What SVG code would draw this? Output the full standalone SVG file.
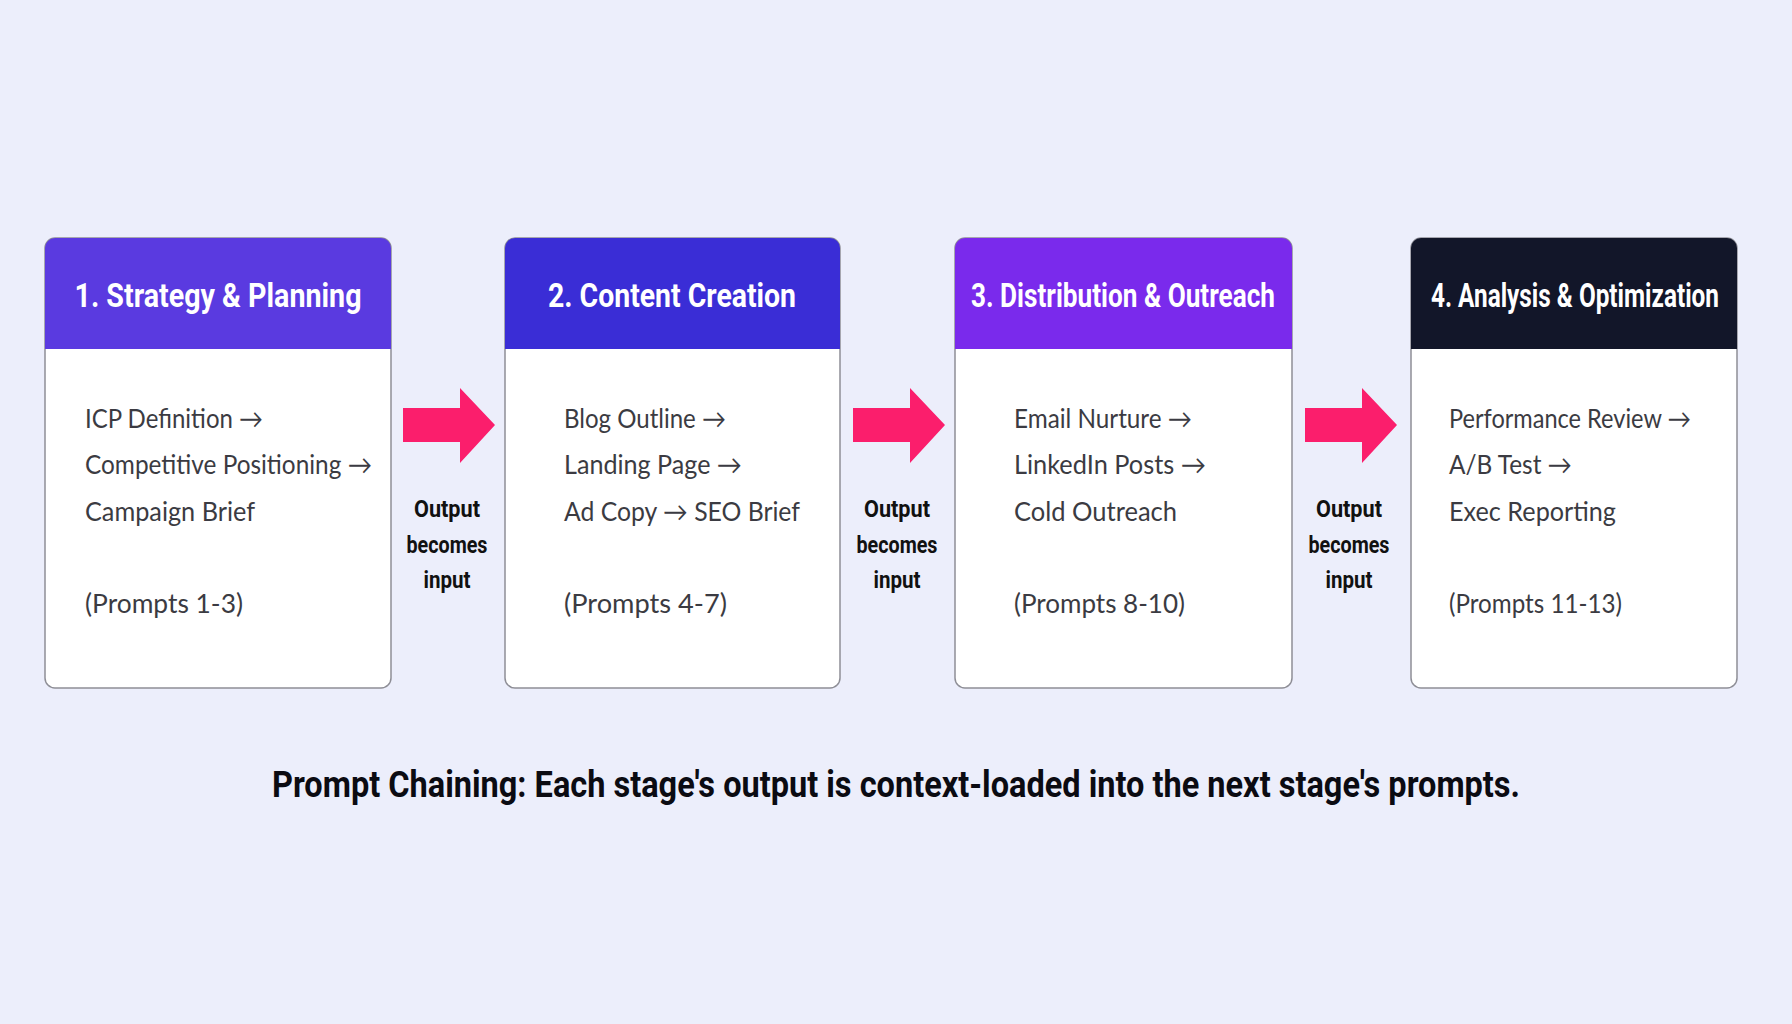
<svg xmlns="http://www.w3.org/2000/svg" width="1792" height="1024" viewBox="0 0 1792 1024">
<defs>
<style>
.card{fill:#ffffff;stroke:#8e8e96;stroke-width:1.5}
.hdr{font-family:Roboto,"Liberation Sans",sans-serif;font-weight:700;font-size:33px;fill:#ffffff;text-anchor:middle}
.body{font-family:Lato,"Liberation Sans",sans-serif;font-size:26.5px;fill:#3b3b42}
.lbl{font-family:Roboto,"Liberation Sans",sans-serif;font-weight:700;font-size:23px;fill:#111111;text-anchor:middle}
.title{font-family:Roboto,"Liberation Sans",sans-serif;font-weight:700;font-size:36px;fill:#0b0b12;text-anchor:middle}
.arrow{fill:#fb1e6c}
</style>
<polygon id="arr" points="0,-17 57,-17 57,-37 92,0 57,38 57,17 0,17"/>
</defs>
<rect width="1792" height="1024" fill="#eceefb"/>

<g id="node1">
<rect class="card" x="45" y="238" width="346" height="450" rx="10"/>
<path d="M45,349 V248 A10,10 0 0 1 55,238 H381 A10,10 0 0 1 391,248 V349 Z" fill="#5a3ae0"/>
<text class="hdr" x="218" y="307" textLength="287" lengthAdjust="spacingAndGlyphs">1. Strategy &amp; Planning</text>
<text class="body" x="85" y="428" textLength="178" lengthAdjust="spacingAndGlyphs">ICP Definition →</text>
<text class="body" x="85" y="474" textLength="287" lengthAdjust="spacingAndGlyphs">Competitive Positioning →</text>
<text class="body" x="85" y="521" textLength="170" lengthAdjust="spacingAndGlyphs">Campaign Brief</text>
<text class="body" x="85" y="613" textLength="158" lengthAdjust="spacingAndGlyphs">(Prompts 1-3)</text>
</g>

<g id="node2">
<rect class="card" x="505" y="238" width="335" height="450" rx="10"/>
<path d="M505,349 V248 A10,10 0 0 1 515,238 H830 A10,10 0 0 1 840,248 V349 Z" fill="#3a2dd6"/>
<text class="hdr" x="672" y="307" textLength="248" lengthAdjust="spacingAndGlyphs">2. Content Creation</text>
<text class="body" x="564" y="428" textLength="162" lengthAdjust="spacingAndGlyphs">Blog Outline →</text>
<text class="body" x="564" y="474" textLength="178" lengthAdjust="spacingAndGlyphs">Landing Page →</text>
<text class="body" x="564" y="521" textLength="236" lengthAdjust="spacingAndGlyphs">Ad Copy → SEO Brief</text>
<text class="body" x="564" y="613" textLength="163" lengthAdjust="spacingAndGlyphs">(Prompts 4-7)</text>
</g>

<g id="node3">
<rect class="card" x="955" y="238" width="337" height="450" rx="10"/>
<path d="M955,349 V248 A10,10 0 0 1 965,238 H1282 A10,10 0 0 1 1292,248 V349 Z" fill="#7a2aec"/>
<text class="hdr" x="1123" y="307" textLength="304" lengthAdjust="spacingAndGlyphs">3. Distribution &amp; Outreach</text>
<text class="body" x="1014" y="428" textLength="178" lengthAdjust="spacingAndGlyphs">Email Nurture →</text>
<text class="body" x="1014" y="474" textLength="192" lengthAdjust="spacingAndGlyphs">LinkedIn Posts →</text>
<text class="body" x="1014" y="521" textLength="163" lengthAdjust="spacingAndGlyphs">Cold Outreach</text>
<text class="body" x="1014" y="613" textLength="171" lengthAdjust="spacingAndGlyphs">(Prompts 8-10)</text>
</g>

<g id="node4">
<rect class="card" x="1411" y="238" width="326" height="450" rx="10"/>
<path d="M1411,349 V248 A10,10 0 0 1 1421,238 H1727 A10,10 0 0 1 1737,248 V349 Z" fill="#121629"/>
<text class="hdr" x="1575" y="307" textLength="288" lengthAdjust="spacingAndGlyphs">4. Analysis &amp; Optimization</text>
<text class="body" x="1449" y="428" textLength="242" lengthAdjust="spacingAndGlyphs">Performance Review →</text>
<text class="body" x="1449" y="474" textLength="123" lengthAdjust="spacingAndGlyphs">A/B Test →</text>
<text class="body" x="1449" y="521" textLength="167" lengthAdjust="spacingAndGlyphs">Exec Reporting</text>
<text class="body" x="1449" y="613" textLength="173" lengthAdjust="spacingAndGlyphs">(Prompts 11-13)</text>
</g>

<g id="connectors">
<use href="#arr" class="arrow" x="403" y="425"/>
<use href="#arr" class="arrow" x="853" y="425"/>
<use href="#arr" class="arrow" x="1305" y="425"/>
<text class="lbl" x="447" y="517" textLength="66" lengthAdjust="spacingAndGlyphs">Output</text>
<text class="lbl" x="447" y="553" textLength="81" lengthAdjust="spacingAndGlyphs">becomes</text>
<text class="lbl" x="447" y="588" textLength="47" lengthAdjust="spacingAndGlyphs">input</text>
<text class="lbl" x="897" y="517" textLength="66" lengthAdjust="spacingAndGlyphs">Output</text>
<text class="lbl" x="897" y="553" textLength="81" lengthAdjust="spacingAndGlyphs">becomes</text>
<text class="lbl" x="897" y="588" textLength="47" lengthAdjust="spacingAndGlyphs">input</text>
<text class="lbl" x="1349" y="517" textLength="66" lengthAdjust="spacingAndGlyphs">Output</text>
<text class="lbl" x="1349" y="553" textLength="81" lengthAdjust="spacingAndGlyphs">becomes</text>
<text class="lbl" x="1349" y="588" textLength="47" lengthAdjust="spacingAndGlyphs">input</text>
</g>

<text id="caption" class="title" x="896" y="797" textLength="1248" lengthAdjust="spacingAndGlyphs">Prompt Chaining: Each stage's output is context-loaded into the next stage's prompts.</text>
</svg>
